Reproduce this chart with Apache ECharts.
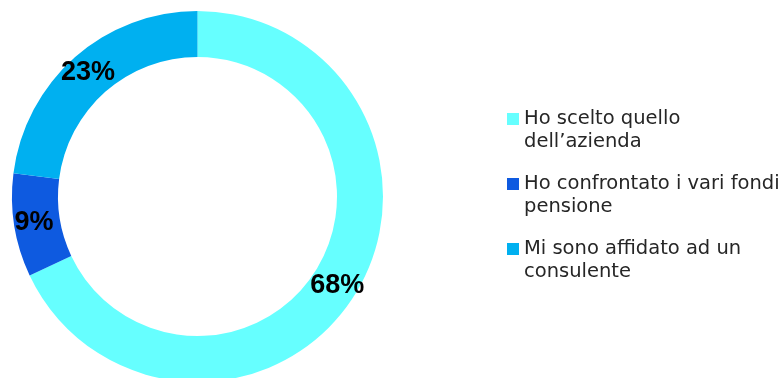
<!DOCTYPE html>
<html>
<head>
<meta charset="utf-8">
<script src="https://cdn.jsdelivr.net/npm/echarts@6/dist/echarts.min.js"></script>
<style>
  html, body { margin: 0; padding: 0; background: #ffffff; }
  #chart { width: 784px; height: 378px; }
</style>
</head>
<body>
<div id="chart"></div>
<script>
// Survey answers: how the pension fund was chosen (percent of respondents)
const categories = [
  'Ho scelto quello dell\u2019azienda',
  'Ho confrontato i vari fondi pensione',
  'Mi sono affidato ad un consulente'
];
const values = [68, 9, 23];
const legendLines = [
  ['Ho scelto quello', 'dell\u2019azienda'],
  ['Ho confrontato i vari fondi', 'pensione'],
  ['Mi sono affidato ad un', 'consulente']
];
const colors = ['#66ffff', '#0e5ae0', '#00b0f0'];

const LINE_H = 23;

const chart = echarts.init(document.getElementById('chart'), null, { renderer: 'canvas' });

chart.setOption({
  animation: false,
  backgroundColor: '#ffffff',
  color: colors,
  legend: {
    orient: 'vertical',
    left: 507,
    top: 113 - 28.5,
    padding: 0,
    itemWidth: 12,
    itemHeight: 12,
    itemGap: -4,
    icon: 'rect',
    selectedMode: false,
    data: categories,
    // a blank leading line keeps the first text line level with the swatch
    formatter: function (name) {
      return '\n' + legendLines[categories.indexOf(name)].join('\n');
    },
    textStyle: {
      fontFamily: 'DejaVu Sans',
      fontSize: 19.5,
      color: '#262626',
      lineHeight: LINE_H
    }
  },
  series: [{
    type: 'pie',
    center: [197.5, 196.5],
    radius: [139.5, 185.5],
    startAngle: 90,
    clockwise: true,
    avoidLabelOverlap: false,
    silent: true,
    label: {
      show: true,
      position: 'inside',
      formatter: '{c}%',
      fontFamily: 'Liberation Sans',
      fontWeight: 'bold',
      fontSize: 27,
      color: '#000000'
    },
    labelLine: { show: false },
    itemStyle: { borderWidth: 0 },
    data: categories.map(function (name, i) {
      return { name: name, value: values[i] };
    })
  }]
});
</script>
</body>
</html>
